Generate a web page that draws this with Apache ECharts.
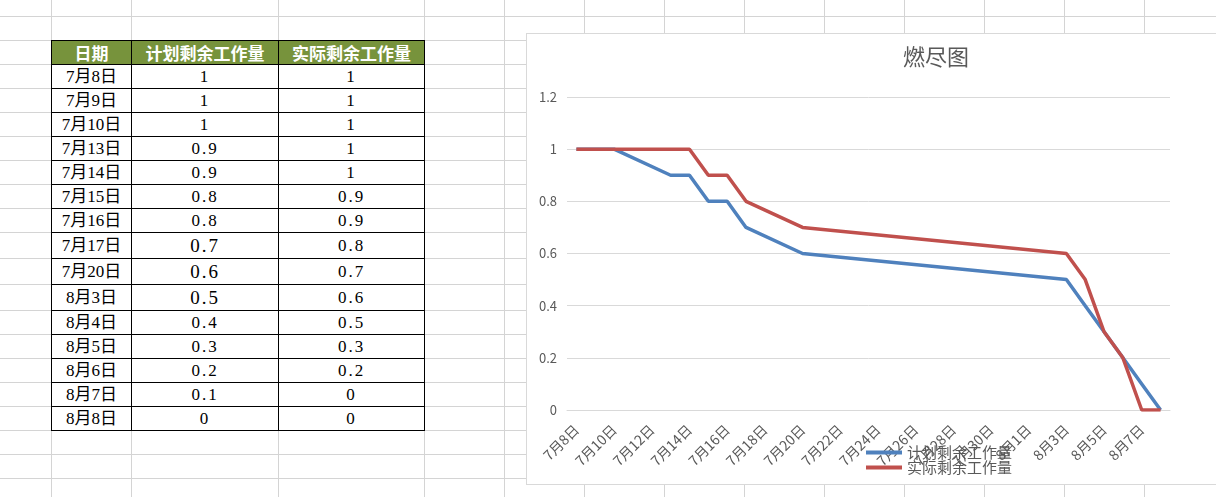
<!DOCTYPE html>
<html>
<head>
<meta charset="utf-8">
<script src="https://cdn.jsdelivr.net/npm/echarts@6/dist/echarts.min.js"></script>
<style>
  html, body { margin:0; padding:0; background:#fff; width:1216px; height:497px; overflow:hidden; }
  #sheet { position:absolute; left:0; top:0; width:1216px; height:497px; }
  .vl { position:absolute; top:0; width:1px; height:497px; background:#d4d4d4; }
  .hl { position:absolute; left:0; height:1px; width:1216px; background:#d4d4d4; }
  #tbl { position:absolute; left:51px; top:40px; border-collapse:collapse; table-layout:fixed; }
  #tbl td, #tbl th { border:1px solid #000; padding:0; text-align:center; vertical-align:middle; box-sizing:border-box;
     font-family:"Liberation Serif","Noto Sans CJK SC",serif; color:#000; font-size:16px; font-weight:normal; line-height:1; }
  #tbl td.d { font-size:17px; }
  #tbl th { background:#77933C; color:#fff; font-weight:bold; font-size:17px; font-family:"Noto Sans CJK SC",serif; }
  #tbl td.v { letter-spacing:2px; font-size:17px; }
  #chart { position:absolute; left:526px; top:33px; width:700px; height:450px; border:1px solid #d9d9d9; background:#fff; }
</style>
</head>
<body>
<div id="sheet"></div>
<table id="tbl"></table>
<div id="chart"></div>
<script>
// ---- data ----
var headers = ['日期', '计划剩余工作量', '实际剩余工作量'];
var tableDates = ['7月8日','7月9日','7月10日','7月13日','7月14日','7月15日','7月16日','7月17日','7月20日','8月3日','8月4日','8月5日','8月6日','8月7日','8月8日'];
var planValues = [1, 1, 1, 0.9, 0.9, 0.8, 0.8, 0.7, 0.6, 0.5, 0.4, 0.3, 0.2, 0.1, 0];
var actualValues = [1, 1, 1, 1, 1, 0.9, 0.9, 0.8, 0.7, 0.6, 0.5, 0.3, 0.2, 0, 0];
var axisDays = ['7月8日','7月9日','7月10日','7月11日','7月12日','7月13日','7月14日','7月15日','7月16日','7月17日',
  '7月18日','7月19日','7月20日','7月21日','7月22日','7月23日','7月24日','7月25日','7月26日','7月27日',
  '7月28日','7月29日','7月30日','7月31日','8月1日','8月2日','8月3日','8月4日','8月5日','8月6日','8月7日','8月8日'];
var chartTitle = '燃尽图';
var yTicks = { min: 0, max: 1.2, interval: 0.2 };

// ---- spreadsheet grid (layout) ----
var colLines = [51, 131, 278, 424, 504, 584, 664, 744, 824, 904, 984, 1064, 1144];
var rowLines = [16, 40, 64, 88, 112, 136, 160, 184, 208, 232, 258, 284, 310, 334, 358, 382, 406, 430, 454, 478];
var sheet = document.getElementById('sheet');
colLines.forEach(function (x) { var d = document.createElement('div'); d.className = 'vl'; d.style.left = x + 'px'; sheet.appendChild(d); });
rowLines.forEach(function (y) { var d = document.createElement('div'); d.className = 'hl'; d.style.top = y + 'px'; sheet.appendChild(d); });

// ---- table ----
var colW = [80, 147, 146];
var rowH = [24, 24, 24, 24, 24, 24, 24, 24, 26, 26, 26, 24, 24, 24, 24, 24];
var tbl = document.getElementById('tbl');
var cg = document.createElement('colgroup');
colW.forEach(function (w) { var c = document.createElement('col'); c.style.width = w + 'px'; cg.appendChild(c); });
tbl.appendChild(cg);
function sizeRow(r, h) { r.style.height = h + 'px'; }
var tr = document.createElement('tr'); sizeRow(tr, rowH[0]);
headers.forEach(function (h) { var th = document.createElement('th'); th.textContent = h; th.style.height = rowH[0] + 'px'; tr.appendChild(th); });
tbl.appendChild(tr);
tableDates.forEach(function (d, i) {
  var h = rowH[i + 1];
  var r = document.createElement('tr'); sizeRow(r, h);
  var c0 = document.createElement('td'); c0.className = 'd'; c0.textContent = d; c0.style.height = h + 'px'; r.appendChild(c0);
  var c1 = document.createElement('td'); c1.className = 'v'; c1.textContent = String(planValues[i]); c1.style.height = h + 'px'; r.appendChild(c1);
  var c2 = document.createElement('td'); c2.className = 'v'; c2.textContent = String(actualValues[i]); c2.style.height = h + 'px'; r.appendChild(c2);
  if (h > 24) { c1.style.fontSize = '19px'; }
  tbl.appendChild(r);
});

// ---- chart ----
function toSeries(vals) {
  return axisDays.map(function (day) {
    var k = tableDates.indexOf(day);
    return k >= 0 ? vals[k] : null;
  });
}
var chart = echarts.init(document.getElementById('chart'), null, { renderer: 'canvas' });
var font = '"Noto Sans CJK SC", sans-serif';
chart.setOption({
  animation: false,
  backgroundColor: '#fff',
  title: {
    text: chartTitle, left: 376, top: 12, padding: 0,
    textStyle: { fontFamily: font, fontSize: 22, fontWeight: 'normal', color: '#595959' }
  },
  legend: {
    orient: 'vertical', left: 339, top: 411, padding: 0, itemGap: 0,
    itemWidth: 36, itemHeight: 4, icon: 'rect',
    textStyle: { fontFamily: font, fontSize: 15, color: '#595959', padding: [0, 0, 0, 0] },
    data: [headers[1], headers[2]]
  },
  grid: { left: 40, right: 57, top: 63, bottom: 74, containLabel: false },
  xAxis: {
    type: 'category', data: axisDays, boundaryGap: true,
    axisLine: { lineStyle: { color: '#d9d9d9', width: 1 } },
    axisTick: { interval: 1, length: 5, lineStyle: { color: '#d9d9d9' } },
    axisLabel: { interval: 1, rotate: 45, margin: 17, fontFamily: font, fontSize: 14, color: '#595959' },
    splitLine: { show: false }
  },
  yAxis: {
    type: 'value', min: yTicks.min, max: yTicks.max, interval: yTicks.interval,
    axisLine: { show: false }, axisTick: { show: false },
    axisLabel: { margin: 10, fontFamily: font, fontSize: 13, color: '#595959' },
    splitLine: { lineStyle: { color: '#d9d9d9', width: 1 } }
  },
  series: [
    { name: headers[1], type: 'line', data: toSeries(planValues), connectNulls: true, showSymbol: false, symbol: 'none',
      lineStyle: { color: '#4F81BD', width: 3.5 }, itemStyle: { color: '#4F81BD' } },
    { name: headers[2], type: 'line', data: toSeries(actualValues), connectNulls: true, showSymbol: false, symbol: 'none',
      lineStyle: { color: '#C0504D', width: 3.5 }, itemStyle: { color: '#C0504D' } }
  ]
});
</script>
</body>
</html>
